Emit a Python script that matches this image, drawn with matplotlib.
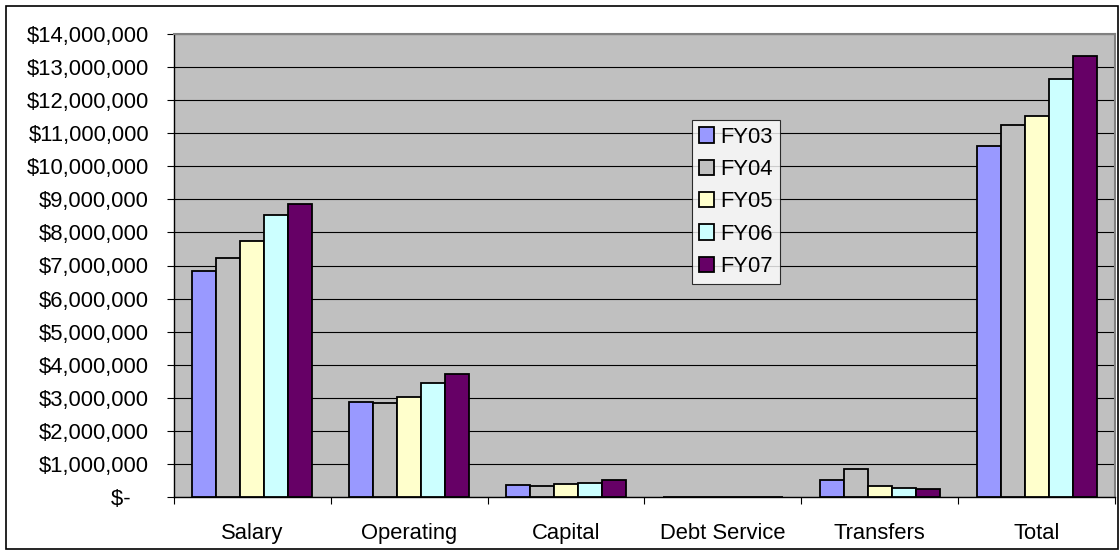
import matplotlib
matplotlib.use("Agg")
import matplotlib.pyplot as plt
import numpy as np
from matplotlib.patches import Rectangle

plt.rcParams['font.family'] = ['Liberation Sans', 'DejaVu Sans']

categories = ["Salary", "Operating", "Capital", "Debt Service", "Transfers", "Total"]
series_names = ["FY03", "FY04", "FY05", "FY06", "FY07"]
fy03 = [6830000, 2860000, 360000, 0, 520000, 10600000]
fy04 = [7220000, 2840000, 330000, 0, 840000, 11250000]
fy05 = [7730000, 3030000, 390000, 0, 330000, 11530000]
fy06 = [8520000, 3440000, 410000, 0, 260000, 12630000]
fy07 = [8860000, 3720000, 500000, 0, 240000, 13340000]
series_values = [fy03, fy04, fy05, fy06, fy07]
colors = ["#9999FF", "#C0C0C0", "#FFFFCC", "#CCFFFF", "#660066"]
y_ticks = list(range(0, 14000001, 1000000))
y_tick_labels = ["$-   "] + ["${:,}".format(v) for v in y_ticks[1:]]

FS = 15.8
W, H = 1120, 555
fig = plt.figure(figsize=(W / 100, H / 100), dpi=100)
fig.patch.set_facecolor("white")
fig.add_artist(Rectangle((6 / W, 6 / H), (1118 - 6) / W, (549 - 6) / H,
                         transform=fig.transFigure, fill=False,
                         edgecolor="black", linewidth=1.2))

left, right, top, bottom = 174, 1115, 34, 497
ax = fig.add_axes([left / W, 1 - bottom / H, (right - left) / W, (bottom - top) / H])
ax.set_facecolor("#C0C0C0")

x = np.arange(len(categories))
bw = 0.153
n = len(series_names)
for i, (name, vals, c) in enumerate(zip(series_names, series_values, colors)):
    ax.bar(x + (i - (n - 1) / 2) * bw, vals, width=bw, color=c,
           edgecolor="black", linewidth=1.3, label=name, zorder=3)

ax.set_xlim(-0.5, len(categories) - 0.5)
ax.set_ylim(0, 14000000)
ax.set_yticks(y_ticks)
ax.set_yticklabels(y_tick_labels, fontsize=FS)
ax.set_xticks(x)
ax.set_xticklabels(categories, fontsize=FS)
ax.set_xticks(np.arange(-0.5, len(categories), 1.0), minor=True)
ax.tick_params(axis="x", which="major", length=0, pad=19)
ax.tick_params(axis="x", which="minor", length=5, direction="out", width=0.8)
ax.tick_params(axis="y", which="major", length=5, direction="out", width=0.8, pad=13)
ax.yaxis.grid(True, color="black", linewidth=0.8, zorder=1)
ax.set_axisbelow(True)

for s in ["left", "bottom"]:
    ax.spines[s].set_color("black")
    ax.spines[s].set_linewidth(1.0)
for s in ["top", "right"]:
    ax.spines[s].set_color("#808080")
    ax.spines[s].set_linewidth(1.5)

leg = ax.legend(loc="upper left", bbox_to_anchor=((692 - left) / (right - left), 1 - (120 - top) / (bottom - top)),
                fontsize=FS, frameon=True, fancybox=False, shadow=False,
                handlelength=0.7, handleheight=0.7, handletextpad=0.3,
                borderpad=0.3, labelspacing=0.52, borderaxespad=0)
leg.get_frame().set_edgecolor("black")
leg.get_frame().set_linewidth(0.8)
leg.get_frame().set_facecolor("white")

fig.savefig("out.png", dpi=100)
